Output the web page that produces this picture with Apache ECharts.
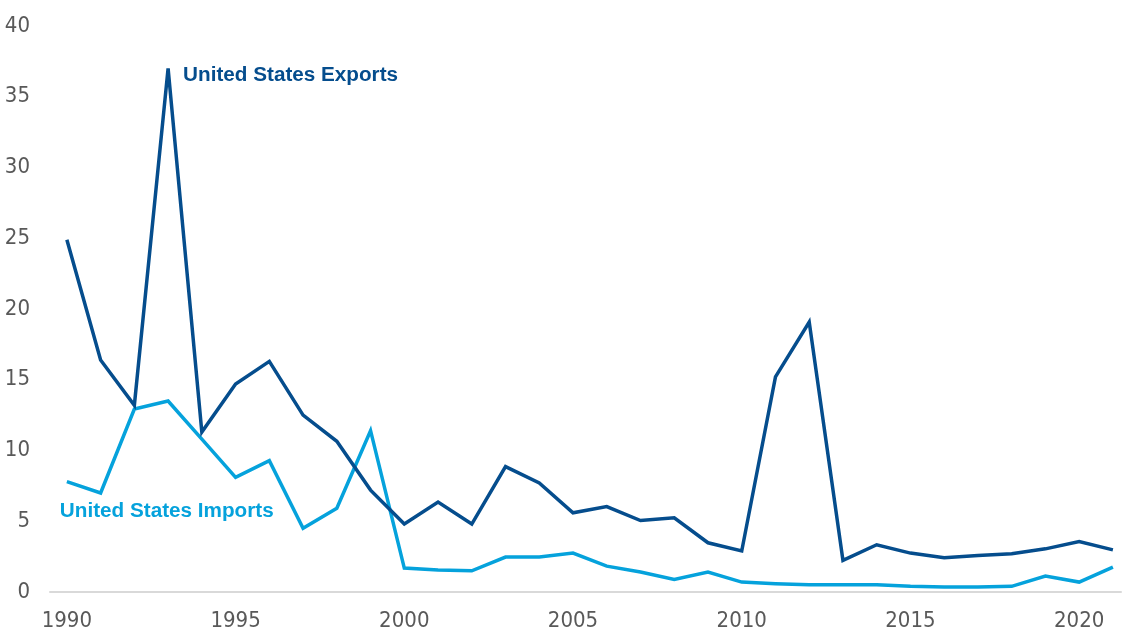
<!DOCTYPE html>
<html>
<head>
<meta charset="utf-8">
<style>
  html, body { margin: 0; padding: 0; background: #ffffff; }
  #chart { width: 1124px; height: 632px; }
</style>
<script src="https://cdn.jsdelivr.net/npm/echarts@6/dist/echarts.min.js"></script>
</head>
<body>
<div id="chart"></div>
<script>
// Years on the horizontal axis
const years = [
  1990, 1991, 1992, 1993, 1994, 1995, 1996, 1997, 1998, 1999,
  2000, 2001, 2002, 2003, 2004, 2005, 2006, 2007, 2008, 2009,
  2010, 2011, 2012, 2013, 2014, 2015, 2016, 2017, 2018, 2019,
  2020, 2021
];

// United States exports
const exportsValues = [
  24.9, 16.4, 13.2, 37.0, 11.3, 14.7, 16.3, 12.5, 10.65, 7.2,
  4.8, 6.35, 4.8, 8.86, 7.7, 5.6, 6.04, 5.05, 5.24, 3.48,
  2.9, 15.2, 19.08, 2.23, 3.34, 2.75, 2.42, 2.58, 2.7, 3.05,
  3.57, 2.98
];

// United States imports
const importsValues = [
  7.8, 7.0, 12.93, 13.5, 10.8, 8.1, 9.28, 4.5, 5.92, 11.4,
  1.69, 1.55, 1.5, 2.47, 2.47, 2.75, 1.83, 1.41, 0.89, 1.41,
  0.7, 0.58, 0.51, 0.51, 0.51, 0.4, 0.35, 0.35, 0.4, 1.13,
  0.7, 1.76
];

// Year labels shown under the axis
const yearTicks = [1990, 1995, 2000, 2005, 2010, 2015, 2020];

const exportsName = 'United States Exports';
const importsName = 'United States Imports';
const exportsColor = '#054d8d';
const importsColor = '#05a2dc';

// Year at which each series carries its name label
const exportsLabelYear = 1993;
const importsLabelYear = 1990;

const axisFont = "'Liberation Sans Narrow', 'Arial Narrow', 'DejaVu Sans Condensed', sans-serif";
const labelFont = "'Liberation Sans', Arial, sans-serif";

function toPoints(values, year, labelCfg) {
  return values.map(function (v, i) {
    const item = { value: [years[i], v] };
    if (years[i] === year) {
      item.label = Object.assign({ show: true }, labelCfg);
    }
    return item;
  });
}

const chart = echarts.init(document.getElementById('chart'), null, { renderer: 'canvas' });

chart.setOption({
  animation: false,
  backgroundColor: '#ffffff',
  grid: { left: 50, right: 0, top: 26, bottom: 38.7, containLabel: false },
  xAxis: {
    type: 'value',
    // half a year of padding before the first point, axis runs off the right edge
    min: 1989.5,
    max: 2021.24,
    interval: 0.5,
    axisLine: { show: true, onZero: false, lineStyle: { color: '#d9d9d9', width: 2 } },
    axisTick: { show: false },
    splitLine: { show: false },
    axisLabel: {
      margin: 18,
      color: '#595959',
      fontFamily: axisFont,
      fontSize: 22,
      showMinLabel: true,
      showMaxLabel: true,
      formatter: function (v) {
        return yearTicks.indexOf(v) >= 0 ? String(v) : '';
      }
    }
  },
  yAxis: {
    type: 'value',
    min: 0,
    max: 40,
    interval: 5,
    axisLine: { show: false },
    axisTick: { show: false },
    splitLine: { show: false },
    axisLabel: {
      margin: 20,
      color: '#595959',
      fontFamily: axisFont,
      fontSize: 22
    }
  },
  series: [
    {
      name: exportsName,
      type: 'line',
      data: toPoints(exportsValues, exportsLabelYear, {
        formatter: exportsName,
        position: 'right',
        distance: 15,
        offset: [0, 7],
        color: exportsColor,
        fontFamily: labelFont,
        fontWeight: 'bold',
        fontSize: 20.7
      }),
      showSymbol: true,
      symbol: 'circle',
      symbolSize: 0,
      lineStyle: { color: exportsColor, width: 3.5, join: 'miter' },
      itemStyle: { color: exportsColor },
      label: { show: false },
      emphasis: { disabled: true },
      z: 3
    },
    {
      name: importsName,
      type: 'line',
      data: toPoints(importsValues, importsLabelYear, {
        formatter: importsName,
        position: 'bottom',
        align: 'left',
        distance: 19,
        offset: [-7, 0],
        color: importsColor,
        fontFamily: labelFont,
        fontWeight: 'bold',
        fontSize: 20.7
      }),
      showSymbol: true,
      symbol: 'circle',
      symbolSize: 0,
      lineStyle: { color: importsColor, width: 3.5, join: 'miter' },
      itemStyle: { color: importsColor },
      label: { show: false },
      emphasis: { disabled: true },
      z: 2
    }
  ]
});
</script>
</body>
</html>
